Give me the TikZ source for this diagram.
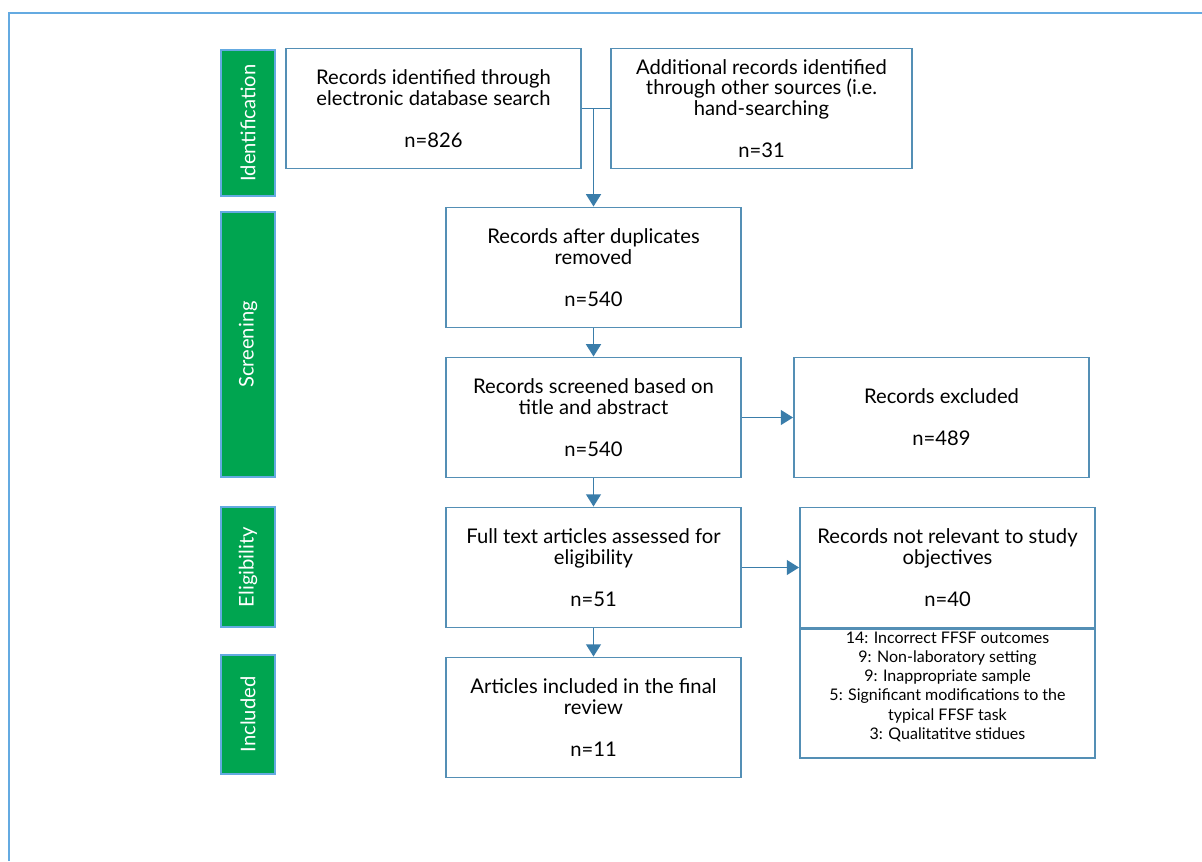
\documentclass[tikz,border=0pt]{standalone}
\usepackage{fontspec}
\setmainfont{Lato}
\usepackage{xcolor}
\usepackage{tikz}
\usetikzlibrary{arrows.meta}

\definecolor{boxblue}{RGB}{84,143,181}
\definecolor{arrowblue}{RGB}{58,125,170}
\definecolor{frameblue}{RGB}{100,170,225}
\definecolor{stagegreen}{RGB}{0,165,80}

\tikzset{
  rec/.style={draw=boxblue, line width=1.1pt, minimum width=5.9cm, minimum height=2.4cm, inner sep=0pt, align=center, font=\fontsize{11.5}{11.9}\selectfont},
  stage/.style={draw=frameblue, fill=stagegreen, line width=0.6pt, minimum height=1.08cm, inner sep=0pt, text=white, rotate=90, font=\fontsize{11.5}{12}\selectfont},
  link/.style={draw=arrowblue, line width=0.9pt},
  flow/.style={link, -{Triangle[width=8.5pt,length=7pt]}},
}

\begin{document}
\begin{tikzpicture}[x=0.02cm, y=-0.02cm]
\useasboundingbox (0,0) rectangle (1202,861);
\draw[frameblue, line width=1.2pt] (9,861) -- (9,13) -- (1202,13);

% stages
\node[stage, minimum width=2.92cm] (S1) at (248,123) {Identification};
\node[stage, minimum width=5.3cm] (S2) at (248,344.5) {Screening};
\node[stage, minimum width=2.4cm] (S3) at (248,567) {Eligibility};
\node[stage, minimum width=2.38cm] (S4) at (248,714.5) {Included};

% records
\node[rec] (R1) at (433.5,108.5) {Records identified through\\electronic database search\\[11.9pt]n=826};
\node[rec, minimum width=6.02cm] (R2) at (761.5,108.5) {Additional records identified\\through other sources (i.e.\\hand-searching\\[11.9pt]n=31};
\node[rec] (R3) at (593.5,267.5) {Records after duplicates\\removed\\[11.9pt]n=540};
\node[rec] (R4) at (593.5,417.5) {Records screened based on\\title and abstract\\[11.9pt]n=540};
\node[rec] (R5) at (941.5,417.5) {Records excluded\\[11.9pt]n=489};
\node[rec] (R6) at (593.5,567.5) {Full text articles assessed for\\eligibility\\[11.9pt]n=51};
\node[rec] (R7) at (947.5,567.5) {Records not relevant to study\\objectives\\[11.9pt]n=40};
\node[rec, minimum height=2.58cm, anchor=north] (R7b) at (R7.south) {};
\node[align=center, inner sep=0pt, anchor=north, font=\fontsize{9.1}{10.9}\selectfont] (why) at ([yshift=-0.06cm]R7b.north) {14: Incorrect FFSF outcomes\\9: Non-laboratory setting\\9: Inappropriate sample\\5: Significant modifications to the\\typical FFSF task\\3: Qualitatitve stidues};
\node[rec] (R8) at (593.5,717.5) {Articles included in the final\\review\\[11.9pt]n=11};

% connectors
\coordinate (J) at (R1.east -| R3.north);
\path (R1.east) edge[link] (R2.west);
\path (J) edge[flow] (R3.north);
\path (R3) edge[flow] (R4);
\path (R4) edge[flow] (R5);
\path (R4) edge[flow] (R6);
\path (R6) edge[flow] (R7);
\path (R6) edge[flow] (R8);
\end{tikzpicture}
\end{document}
